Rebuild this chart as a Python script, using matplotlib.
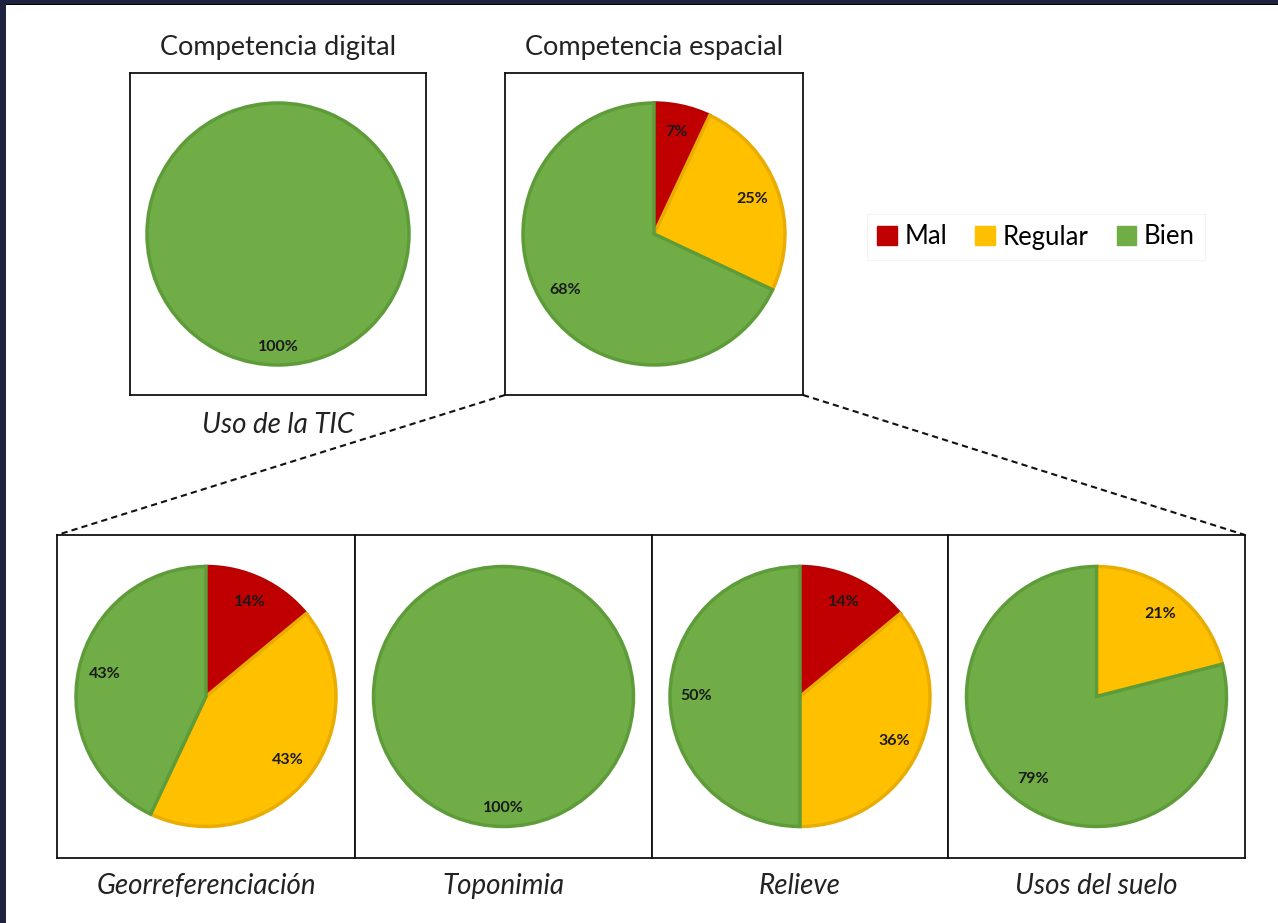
import matplotlib.pyplot as plt
from matplotlib.patches import Patch, Rectangle
from matplotlib.lines import Line2D

plt.rcParams['font.family'] = ['Lato', 'DejaVu Sans']

categories = ['Mal', 'Regular', 'Bien']
colors = ['#C00000', '#FFC000', '#70AD47']
edge_colors = ['#B80000', '#E8AD00', '#5E9C3A']

top_titles = ['Competencia digital', 'Competencia espacial']
top_captions = ['Uso de la TIC', '']
top_values = [[0, 0, 100], [7, 25, 68]]

bottom_captions = ['Georreferenciación', 'Toponimia', 'Relieve', 'Usos del suelo']
bottom_values = [[14, 43, 43], [0, 0, 100], [14, 36, 50], [0, 21, 79]]

W, H = 1278, 923
fig = plt.figure(figsize=(W / 100, H / 100), dpi=100)
fig.patch.set_facecolor('white')


def pie_box(x0, y0, x1, y1, vals, radius):
    ax = fig.add_axes([x0 / W, 1 - y1 / H, (x1 - x0) / W, (y1 - y0) / H])
    w, h = x1 - x0, y1 - y0
    v = [x for x in vals if x > 0]
    c = [colors[i] for i, x in enumerate(vals) if x > 0]
    ec = [edge_colors[i] for i, x in enumerate(vals) if x > 0]
    pdist = 0.86 if len(v) == 1 else 0.8
    wedges, _, autotexts = ax.pie(v, colors=c, startangle=90, counterclock=False,
                                  radius=radius, autopct='%1.0f%%', pctdistance=pdist,
                                  textprops={'fontsize': 11.5, 'fontweight': 'bold',
                                             'color': '#1a1a1a'},
                                  wedgeprops={'linewidth': 2.5})
    for wdg, e in zip(wedges, ec):
        wdg.set_edgecolor(e)
    # pie() resets limits and frame, so put them back in pixel units
    ax.set_aspect('auto')
    ax.set_xlim(-w / 2, w / 2)
    ax.set_ylim(-h / 2, h / 2)
    ax.set_frame_on(True)
    ax.set_xticks([])
    ax.set_yticks([])
    for s in ax.spines.values():
        s.set_linewidth(1.3)
        s.set_color('#111111')
    return ax


top_boxes = [(130, 73, 426, 395), (505, 73, 803, 395)]
for (x0, y0, x1, y1), title, cap, vals in zip(top_boxes, top_titles, top_captions, top_values):
    ax = pie_box(x0, y0, x1, y1, vals, 131)
    ax.set_title(title, fontsize=19.5, pad=13, color='#222222')
    if cap:
        ax.set_xlabel(cap, fontsize=20, style='italic', labelpad=12, color='#222222')

bottom_x = [57, 355, 652, 948, 1245]
for i, (cap, vals) in enumerate(zip(bottom_captions, bottom_values)):
    ax = pie_box(bottom_x[i], 535, bottom_x[i + 1], 858, vals, 130)
    ax.set_xlabel(cap, fontsize=20, style='italic', labelpad=11, color='#222222')

# zoom lines from the spatial competence box
fig.add_artist(Line2D([505 / W, 57 / W], [1 - 395 / H, 1 - 535 / H], color='#111111',
                      linestyle=(0, (3, 2)), linewidth=1.5))
fig.add_artist(Line2D([803 / W, 1245 / W], [1 - 395 / H, 1 - 535 / H], color='#111111',
                      linestyle=(0, (3, 2)), linewidth=1.5))

handles = [Patch(facecolor=c, edgecolor=c) for c in colors]
leg = fig.legend(handles, categories, loc='center', bbox_to_anchor=(1036 / W, 1 - 237 / H),
                 ncol=3, fontsize=18.5, frameon=True, fancybox=False, handlelength=0.75,
                 handleheight=0.75, handletextpad=0.3, columnspacing=1.1, borderpad=0.4)
leg.get_frame().set_edgecolor('#f0f0f0')
leg.get_frame().set_linewidth(0.8)

# dark frame on top and left edges
fig.add_artist(Rectangle((0, 1 - 5 / H), 1, 5 / H, transform=fig.transFigure,
                         facecolor='#1f2340', edgecolor='none'))
fig.add_artist(Rectangle((0, 1 - 5 / H), 1, 1.5 / H, transform=fig.transFigure,
                         facecolor='#000000', edgecolor='none'))
fig.add_artist(Rectangle((0, 0), 6 / W, 1, transform=fig.transFigure,
                         facecolor='#1f2340', edgecolor='none'))

fig.savefig('out.png', dpi=100, facecolor='white')
